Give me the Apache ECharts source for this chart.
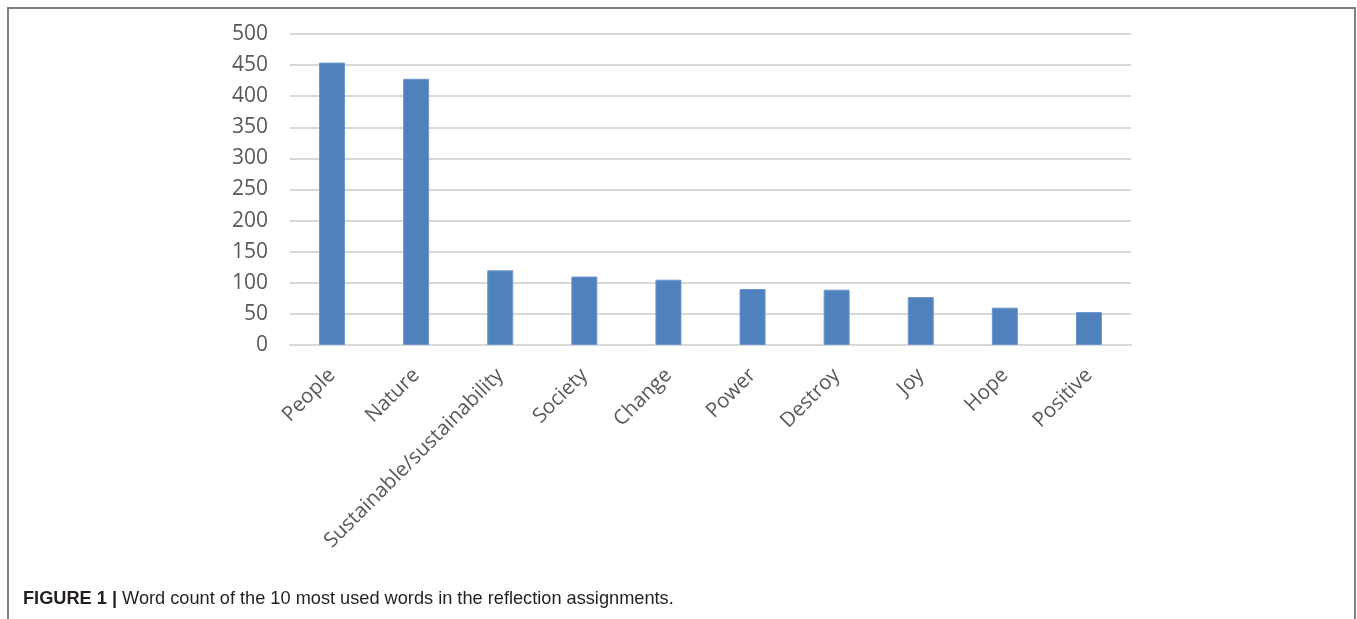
<!DOCTYPE html>
<html>
<head>
<meta charset="utf-8">
<script src="https://cdn.jsdelivr.net/npm/echarts@6/dist/echarts.min.js"></script>
<style>
html,body{margin:0;padding:0;background:#fff;}
#c{width:1357px;height:619px;}
</style>
</head>
<body>
<div id="c"></div>
<script>
const categories = ['People','Nature','Sustainable/sustainability','Society','Change','Power','Destroy','Joy','Hope','Positive'];
const counts = [454, 428, 120, 110, 105, 90, 89, 77, 60, 53];
const yTicks = {min: 0, max: 500, interval: 50};
const caption = ['FIGURE 1 |', ' Word count of the 10 most used words in the reflection assignments.'];

const chart = echarts.init(document.getElementById('c'), null, {renderer: 'canvas'});
chart.setOption({
  animation: false,
  backgroundColor: '#fff',
  grid: {left: 290, right: 226, top: 34, bottom: 274, containLabel: false},
  xAxis: {
    type: 'category',
    data: categories,
    axisLine: {show: true, lineStyle: {color: '#d9d9d9', width: 2}},
    axisTick: {show: false},
    axisLabel: {rotate: 45, interval: 0, margin: 27, color: '#595959', fontFamily: 'Open Sans', fontSize: 20.5}
  },
  yAxis: {
    type: 'value',
    min: yTicks.min, max: yTicks.max, interval: yTicks.interval,
    axisLine: {show: false},
    axisTick: {show: false},
    splitLine: {lineStyle: {color: '#d9d9d9', width: 2}},
    axisLabel: {margin: 22, color: '#595959', fontFamily: 'Open Sans', fontSize: 21}
  },
  series: [{
    type: 'bar',
    data: counts,
    barWidth: 26,
    itemStyle: {color: '#4f81bd', borderColor: '#6d97cc', borderWidth: 1}
  }],
  title: {
    left: 18, top: 585,
    text: '{b|' + caption[0] + '}{n|' + caption[1] + '}',
    textStyle: {
      fontWeight: 'normal',
      rich: {
        b: {fontFamily: 'Liberation Sans', fontWeight: 'bold', fontSize: 18.2, color: '#231f20'},
        n: {fontFamily: 'Liberation Sans', fontWeight: 'normal', fontSize: 18.2, color: '#231f20'}
      }
    }
  },
  graphic: [{
    type: 'rect',
    shape: {x: 8, y: 8, width: 1347, height: 700},
    style: {fill: 'none', stroke: '#808080', lineWidth: 2},
    silent: true
  }]
});
</script>
</body>
</html>
